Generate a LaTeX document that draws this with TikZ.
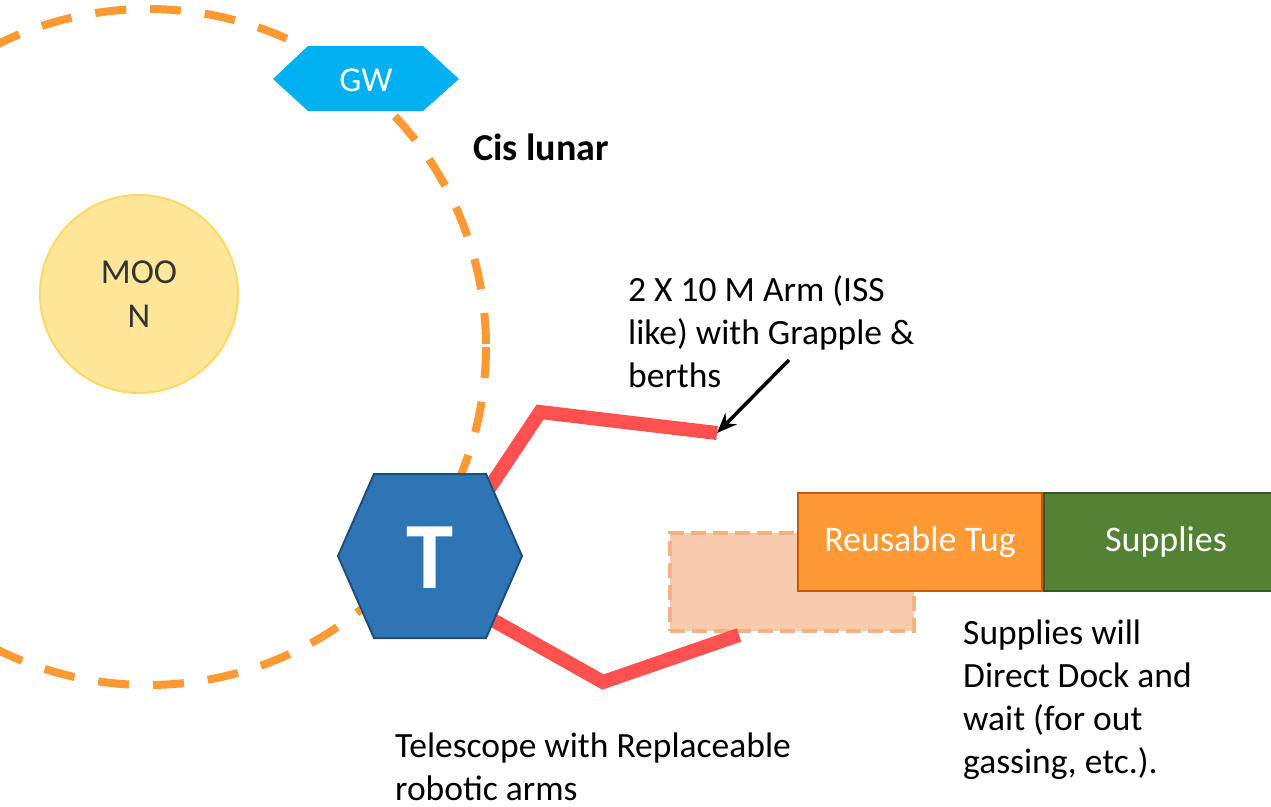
\documentclass[tikz,border=0pt]{standalone}
\usepackage{fontspec}
\setmainfont{Carlito}
\usetikzlibrary{arrows.meta,positioning}
\definecolor{orbitorange}{RGB}{255,153,51}
\definecolor{moonfill}{RGB}{255,230,153}
\definecolor{moonedge}{RGB}{255,217,102}
\definecolor{gwblue}{RGB}{0,176,240}
\definecolor{telblue}{RGB}{46,117,182}
\definecolor{teledge}{RGB}{31,78,121}
\definecolor{armred}{RGB}{255,80,80}
\definecolor{ghostfill}{RGB}{248,203,173}
\definecolor{ghostedge}{RGB}{244,177,131}
\definecolor{tugorange}{RGB}{255,153,51}
\definecolor{tugedge}{RGB}{197,90,17}
\definecolor{supgreen}{RGB}{84,130,53}
\definecolor{supedge}{RGB}{56,87,35}

\begin{document}
\begin{tikzpicture}[
    x=1pt, y=-1pt,
    orbit/.style={orbitorange, line width=8pt, dash pattern=on 31pt off 24pt},
    arm/.style={armred, line width=14pt},
    note/.style={font=\fontsize{35.5}{43}\selectfont, align=left, inner sep=0pt, anchor=base west},
    modbox/.style={font=\fontsize{36}{40}\selectfont, text=white, minimum width=244pt, minimum height=98pt, inner sep=0pt, line width=2pt},
]
    \useasboundingbox (0,0) rectangle (1271,806);
    \clip (0,0) rectangle (1271,806);

    % cis lunar orbit
    \draw[orbit] (148,347) circle (338);

    % Moon
    \node[circle, fill=moonfill, draw=moonedge, line width=2pt, minimum size=198pt, inner sep=0pt,
          font=\fontsize{35}{44}\selectfont, text=black!80, align=center] (moon) at (139,294) {MOO\\N};

    % Gateway
    \fill[gwblue] (273,79) -- (308,46) -- (423,46) -- (459,79) -- (423,111) -- (308,111) -- cycle;
    \node[text=white, font=\fontsize{35}{38}\selectfont] (gw) at (366,80) {GW};
    \node[note, font=\fontsize{38}{43}\selectfont\bfseries] (cis) at (473,160) {Cis lunar};

    % parked slot (dashed)
    \node[fill=ghostfill, draw=ghostedge, line width=4pt, dash pattern=on 15pt off 7pt,
          minimum width=244pt, minimum height=98pt] (ghost) at (792,582) {};

    % arms
    \coordinate (uproot) at (450,547);
    \coordinate (upelbow) at (540,412);
    \coordinate (upend) at (717,433);
    \coordinate (loroot) at (450,596);
    \coordinate (loelbow) at (603,682);
    \coordinate (loend) at (739,635);
    \draw[arm] (uproot) -- (upelbow) -- (upend);
    \draw[arm] (loroot) -- (loelbow) -- (loend);

    % Telescope
    \filldraw[fill=telblue, draw=teledge, line width=2pt]
        (338,556) -- (374,474) -- (486,474) -- (522,556) -- (486,638) -- (374,638) -- cycle;
    \node[text=white, font=\fontsize{95}{100}\selectfont\bfseries] (tel) at (430,558) {T};

    % tug + supplies
    \node[modbox, fill=tugorange, draw=tugedge] (tug) at (920,542) {Reusable Tug};
    \node[modbox, fill=supgreen, draw=supedge, right=0pt of tug] (sup) {Supplies};

    % notes (base = last line)
    \node[note] (armnote) at (628,387) {2 X 10 M Arm (ISS\\like) with Grapple \&\\berths};
    \coordinate (armtail) at (789,360);
    \draw[-{Stealth[length=20pt, width=16pt]}, line width=3.5pt] (armtail) -- (upend);
    \node[note] (supnote) at (963,773) {Supplies will\\Direct Dock and\\wait (for out\\gassing, etc.).};
    \node[note] (telnote) at (395,800) {Telescope with Replaceable\\robotic arms};
\end{tikzpicture}
\end{document}
